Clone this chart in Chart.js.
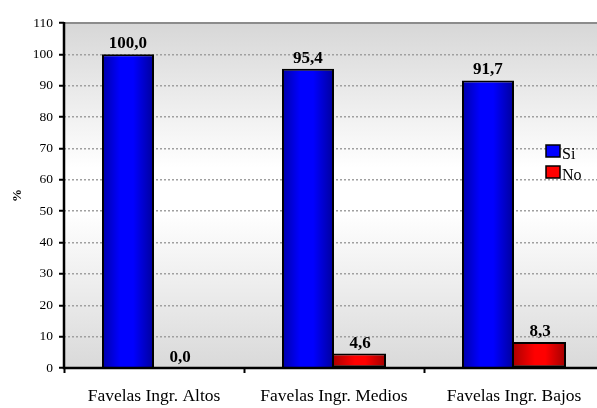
<!DOCTYPE html>
<html>
<head>
<meta charset="utf-8">
<script src="https://cdn.jsdelivr.net/npm/chart.js@4"></script>
<style>
  html, body { margin: 0; padding: 0; overflow: hidden; background: #fff; width: 597px; height: 408px; }
  #wrap { position: relative; width: 610px; height: 408px; }
</style>
</head>
<body>
<div id="wrap"><canvas id="c" width="610" height="408"></canvas></div>
<script>
// Data
const categories = ['Favelas Ingr. Altos', 'Favelas Ingr. Medios', 'Favelas Ingr. Bajos'];
const siValues = [100.0, 95.4, 91.7];
const noValues = [0.0, 4.6, 8.3];
const seriesNames = ['Si', 'No'];
const yMin = 0, yMax = 110, yStep = 10;
const yTitle = '%';

const SERIF = '"Liberation Serif", "Times New Roman", serif';
const CAT_PCT = 0.578;

// Horizontal shading inside each bar, computed from the x scale
function barFill(stops, solid) {
  return (ctx) => {
    const chart = ctx.chart;
    const xs = chart.scales && chart.scales.x;
    if (ctx.type !== 'data' || !xs || !chart.chartArea) return solid;
    const cw = xs.width / categories.length;
    const bw = cw * CAT_PCT / 2;
    const center = xs.getPixelForValue(ctx.dataIndex);
    const left = center - bw + ctx.datasetIndex * bw;
    const g = chart.ctx.createLinearGradient(left, 0, left + bw, 0);
    stops.forEach(([o, c]) => g.addColorStop(o, c));
    return g;
  };
}

const blueStops = [[0, '#0000a8'], [0.35, '#0000ff'], [0.6, '#0000ff'], [1, '#00009a']];
const redStops = [[0, '#b00000'], [0.4, '#ff0000'], [0.6, '#ff0000'], [1, '#a00000']];

// Plot background with vertical grey-white-grey shading and top frame line
const plotBackground = {
  id: 'plotBackground',
  beforeDraw(chart) {
    const { ctx, chartArea: a } = chart;
    ctx.save();
    const g = ctx.createLinearGradient(0, a.top, 0, a.bottom);
    g.addColorStop(0, '#d7d7d7');
    g.addColorStop(0.42, '#ffffff');
    g.addColorStop(0.55, '#ffffff');
    g.addColorStop(1, '#d9d9d9');
    ctx.fillStyle = g;
    ctx.fillRect(a.left, a.top, a.right - a.left, a.bottom - a.top);
    ctx.strokeStyle = '#8c8c8c';
    ctx.lineWidth = 2;
    ctx.beginPath();
    ctx.moveTo(a.left, a.top);
    ctx.lineTo(a.right, a.top);
    ctx.stroke();
    ctx.restore();
  }
};

// Black axis lines, value labels and the inset legend
const overlay = {
  id: 'overlay',
  afterDatasetsDraw(chart) {
    const { ctx, chartArea: a } = chart;
    ctx.save();
    ctx.strokeStyle = '#000';
    ctx.lineWidth = 2.5;
    ctx.beginPath();
    ctx.moveTo(a.left, a.top - 1);
    ctx.lineTo(a.left, a.bottom);
    ctx.lineTo(a.right, a.bottom);
    ctx.stroke();

    ctx.font = 'bold 17px ' + SERIF;
    ctx.textAlign = 'center';
    ctx.textBaseline = 'alphabetic';
    ctx.fillStyle = '#000';
    chart.data.datasets.forEach((ds, di) => {
      chart.getDatasetMeta(di).data.forEach((el, i) => {
        const v = ds.data[i];
        ctx.fillText(v.toFixed(1).replace('.', ','), el.x, el.y - 6);
      });
    });

    // legend
    const lx = a.left + 482, ly = 145;
    ctx.font = '16px ' + SERIF;
    ctx.textAlign = 'left';
    chart.data.datasets.forEach((ds, di) => {
      const y = ly + di * 21;
      ctx.fillStyle = ds.legendColor;
      ctx.fillRect(lx, y, 14, 12);
      ctx.lineWidth = 1.5;
      ctx.strokeStyle = '#000';
      ctx.strokeRect(lx, y, 14, 12);
      ctx.fillStyle = '#000';
      ctx.fillText(ds.label, lx + 16, y + 14);
    });
    ctx.restore();
  }
};

new Chart(document.getElementById('c'), {
  type: 'bar',
  data: {
    labels: categories,
    datasets: [
      {
        label: seriesNames[0],
        data: siValues,
        legendColor: '#0000ff',
        backgroundColor: barFill(blueStops, '#0000ff'),
        borderColor: '#000',
        borderWidth: 2,
        borderSkipped: 'bottom',
        categoryPercentage: CAT_PCT,
        barPercentage: 1
      },
      {
        label: seriesNames[1],
        data: noValues,
        legendColor: '#ff0000',
        backgroundColor: barFill(redStops, '#ff0000'),
        borderColor: '#000',
        borderWidth: 2,
        borderSkipped: 'left',
        categoryPercentage: CAT_PCT,
        barPercentage: 1
      }
    ]
  },
  options: {
    responsive: false,
    animation: false,
    devicePixelRatio: 1,
    layout: { padding: { top: 23, right: 6, left: 0, bottom: 0 } },
    plugins: { legend: { display: false }, tooltip: { enabled: false } },
    scales: {
      x: {
        afterFit(s) { s.height = 40; },
        border: { display: false },
        grid: {
          display: true, drawOnChartArea: false, drawTicks: true,
          tickLength: 5, tickColor: '#000', tickWidth: 2, offset: true
        },
        ticks: {
          font: { family: SERIF, size: 17.5 }, color: '#000',
          padding: 13, maxRotation: 0, autoSkip: false
        }
      },
      y: {
        min: yMin, max: yMax,
        afterFit(s) { s.width = 64; },
        border: { display: false, dash: [2, 2] },
        grid: {
          color: (c) => (c.tick && c.tick.value > yMin && c.tick.value < yMax) ? '#a0a0a0' : 'rgba(0,0,0,0)',
          lineWidth: 1.5,
          tickLength: 5, tickColor: '#000', tickWidth: 2, tickBorderDash: []
        },
        ticks: {
          stepSize: yStep,
          font: { family: SERIF, size: 13.5 }, color: '#000', padding: 6
        },
        title: {
          display: true, text: yTitle, color: '#000',
          font: { family: SERIF, size: 13, weight: 'bold' },
          padding: { top: 10, bottom: 0 }
        }
      }
    }
  },
  plugins: [plotBackground, overlay]
});
</script>
</body>
</html>
